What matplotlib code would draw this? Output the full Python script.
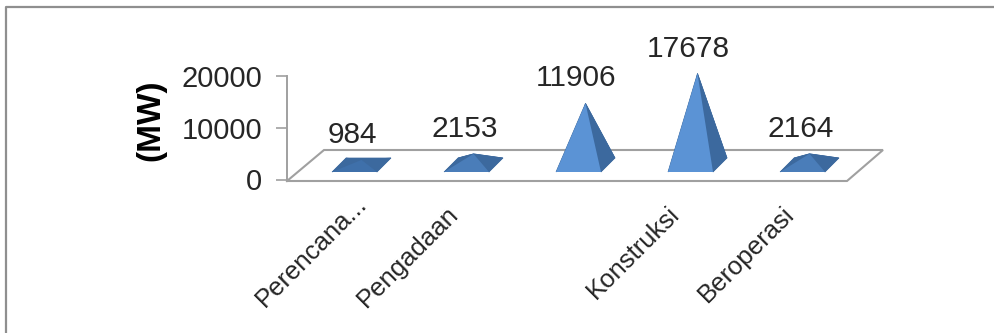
#!/usr/bin/env python

import matplotlib
matplotlib.use('Agg')
import matplotlib.pyplot as plt
from matplotlib.lines import Line2D
from matplotlib.patches import Polygon

categories = ['Perencana...', 'Pengadaan', '', 'Konstruksi', 'Beroperasi']
values = [984, 2153, 11906, 17678, 2164]
y_ticks = [0, 10000, 20000]

W, H = 995, 333
LEFT, RIGHT, TOP, ZERO = 287, 847, 76, 179.5
GRAY = '#a0a0a0'
TEXT = '#262626'

plt.rcParams['font.family'] = ['Liberation Sans', 'DejaVu Sans']


def pyramid(ax, xpos, value):
    # pixel sizes turned into data units so the shear stays the same for all bars
    px_x = 5.0 / (RIGHT - LEFT)
    px_y = 20000.0 / (ZERO - TOP)

    def pt(dx, dy):
        return (xpos + dx * px_x, dy * px_y)

    fl = pt(-11, 7.5)
    fr = pt(34, 7.5)
    br = pt(48, 21.5)
    bl = pt(3, 21.5)
    apex = (pt(18.5, 0)[0], 14.5 * px_y + value)

    # low pyramids catch less light on the front face
    front = '#5b93d5' if value > 5000 else ('#4a7db9' if value > 1500 else '#3f70aa')
    side = '#3c699e'
    # base first so no white seams show between the faces
    ax.add_patch(Polygon([fl, fr, br, bl], color=side, lw=0, clip_on=False, zorder=3))
    ax.add_patch(Polygon([fl, bl, apex], color=side, lw=0.5, clip_on=False, zorder=3))
    ax.add_patch(Polygon([fr, br, apex], color=side, lw=0.5, clip_on=False, zorder=3))
    ax.add_patch(Polygon([bl, br, apex], color=side, lw=0.5, clip_on=False, zorder=3))
    ax.add_patch(Polygon([fl, fr, apex], color=front, lw=0, clip_on=False, zorder=4))
    return apex


def main():
    fig = plt.figure(figsize=(W / 100, H / 100), dpi=100, facecolor='white')
    ax = fig.add_axes([LEFT / W, 1 - ZERO / H, (RIGHT - LEFT) / W, (ZERO - TOP) / H])
    ax.set_xlim(-0.5, 4.5)
    ax.set_ylim(0, 20000)
    ax.patch.set_visible(False)

    for side in ['top', 'right', 'bottom']:
        ax.spines[side].set_visible(False)
    ax.spines['left'].set_color(GRAY)
    ax.spines['left'].set_linewidth(1.4)

    ax.set_yticks(y_ticks)
    ax.set_yticklabels([str(t) for t in y_ticks], fontsize=21, color=TEXT)
    ax.tick_params(axis='y', color=GRAY, width=1.2, length=8, pad=10)
    ax.set_xticks([])

    # floor of the 3d box
    px_x = 5.0 / (RIGHT - LEFT)
    px_y = 20000.0 / (ZERO - TOP)
    floor_x = [-0.5, -0.5 + 37 * px_x, 4.5 + 36 * px_x, 4.5, -0.5]
    floor_y = [-1.5 * px_y, 29.5 * px_y, 29.5 * px_y, -1.5 * px_y, -1.5 * px_y]
    ax.plot(floor_x, floor_y, color=GRAY, lw=1.5, clip_on=False, zorder=1,
            solid_joinstyle='miter')

    for i, v in enumerate(values):
        apex = pyramid(ax, i, v)
        ax.annotate(str(v), xy=apex, xytext=(-9, 11), textcoords='offset pixels',
                    ha='center', va='bottom', fontsize=21.5, color=TEXT,
                    annotation_clip=False, zorder=5)

    shift_x = [20, 0, 0, -3, 0]
    shift_y = [-20, -31, -31, -31, -31]
    for i, name in enumerate(categories):
        ax.annotate(name, xy=(i, 0), xytext=(shift_x[i], shift_y[i]), textcoords='offset pixels',
                    ha='right', va='center', rotation=45, rotation_mode='anchor',
                    fontsize=18.5, color=TEXT, annotation_clip=False)

    fig.text(151 / W, 1 - 120 / H, '(MW)', rotation=90, ha='center', va='center',
             fontsize=24, fontweight='bold', color='black')

    # outer frame only shows on the top and left edges
    fig.add_artist(Line2D([6.5 / W, 6.5 / W, 1], [0, 1 - 7 / H, 1 - 7 / H],
                          color='#8f8f8f', lw=1.6))

    fig.savefig('out.png', dpi=100)


if __name__ == '__main__':
    main()
